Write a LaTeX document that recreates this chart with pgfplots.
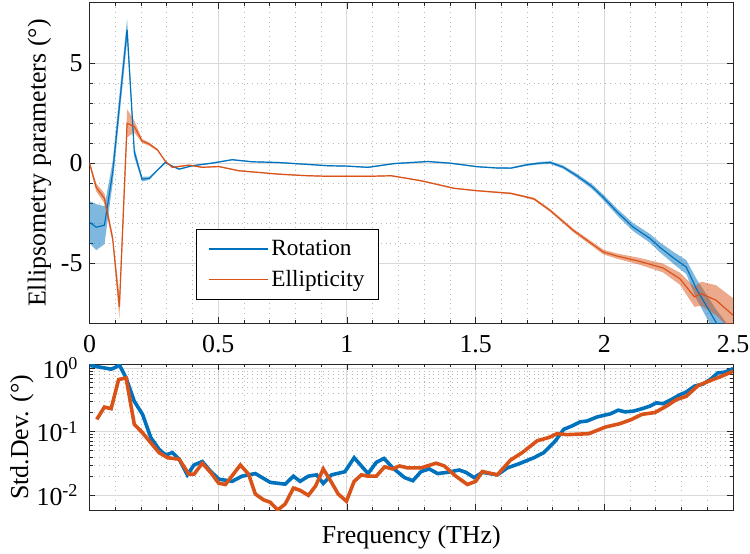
\documentclass[border=0pt]{standalone}
\usepackage{pgfplots}
\pgfplotsset{compat=1.18}
\usepackage{pgfplotstable}
\usepgfplotslibrary{fillbetween}
\usepackage{fontspec}
\setmainfont{Liberation Serif}
\definecolor{mblue}{rgb}{0,0.447,0.741}
\definecolor{morange}{rgb}{0.85,0.325,0.098}
\definecolor{axc}{rgb}{0.15,0.15,0.15}

% Rotation: f, mean, band half-width
\pgfplotstableread{
f v d
0.000 -2.95 1.05
0.026 -3.20 1.15
0.058 -3.10 0.95
0.090 -0.46 0.55
0.146 6.67 0.55
0.174 0.55 0.25
0.204 -0.80 0.12
0.232 -0.76 0.08
0.264 -0.35 0.05
0.294 0.03 0.04
0.322 -0.15 0.03
0.348 -0.30 0.03
0.400 -0.13 0.03
0.476 0.00 0.03
0.554 0.17 0.03
0.630 0.07 0.03
0.734 0.03 0.03
0.830 -0.05 0.03
0.927 -0.13 0.03
1.000 -0.15 0.03
1.082 -0.21 0.03
1.185 -0.02 0.03
1.314 0.08 0.03
1.400 0.00 0.03
1.507 -0.18 0.03
1.580 -0.24 0.03
1.636 -0.25 0.04
1.700 -0.08 0.05
1.750 0.00 0.06
1.790 0.03 0.07
1.840 -0.20 0.08
1.893 -0.63 0.10
1.950 -1.15 0.12
1.996 -1.71 0.14
2.050 -2.45 0.17
2.112 -3.20 0.20
2.176 -3.75 0.22
2.215 -4.20 0.25
2.270 -4.75 0.30
2.318 -5.19 0.35
2.357 -6.27 0.50
2.434 -7.96 0.65
2.500 -9.20 0.80
}\tabrot

% Ellipticity: f, mean, band half-width
\pgfplotstableread{
f v d
0.000 0.00 0.10
0.026 -1.21 0.20
0.058 -1.76 0.25
0.090 -3.78 0.20
0.116 -7.18 0.60
0.146 1.99 0.70
0.174 1.83 0.30
0.204 1.11 0.10
0.232 0.95 0.08
0.264 0.66 0.05
0.294 0.10 0.04
0.322 -0.21 0.04
0.387 -0.10 0.03
0.438 -0.21 0.03
0.502 -0.17 0.03
0.580 -0.38 0.03
0.734 -0.55 0.03
0.830 -0.62 0.03
0.927 -0.66 0.03
1.082 -0.66 0.03
1.172 -0.63 0.03
1.288 -0.88 0.03
1.417 -1.26 0.03
1.507 -1.38 0.03
1.636 -1.51 0.04
1.700 -1.70 0.05
1.727 -1.79 0.06
1.790 -2.37 0.07
1.880 -3.37 0.09
1.996 -4.44 0.12
2.048 -4.64 0.13
2.138 -4.91 0.17
2.228 -5.24 0.22
2.293 -5.77 0.30
2.350 -6.68 0.50
2.376 -6.52 0.60
2.434 -6.85 0.75
2.500 -7.60 0.85
}\tabell

\pgfplotstableread{
f s
0.000 1.10
0.030 1.05
0.060 1.00
0.084 0.96
0.100 1.02
0.116 1.12
0.142 0.70
0.174 0.30
0.206 0.187
0.238 0.081
0.270 0.053
0.296 0.043
0.322 0.047
0.348 0.037
0.380 0.021
0.406 0.030
0.438 0.034
0.470 0.024
0.502 0.018
0.554 0.0166
0.592 0.020
0.644 0.022
0.702 0.016
0.760 0.015
0.792 0.020
0.818 0.0166
0.850 0.020
0.882 0.021
0.908 0.0154
0.940 0.021
0.992 0.0235
1.028 0.039
1.082 0.022
1.114 0.033
1.144 0.038
1.178 0.027
1.224 0.019
1.256 0.017
1.288 0.0237
1.320 0.026
1.352 0.022
1.391 0.023
1.436 0.025
1.462 0.023
1.494 0.019
1.526 0.023
1.584 0.021
1.623 0.027
1.674 0.032
1.726 0.039
1.765 0.047
1.810 0.072
1.842 0.109
1.874 0.123
1.906 0.143
1.932 0.147
1.971 0.170
2.003 0.183
2.022 0.190
2.054 0.218
2.080 0.205
2.112 0.210
2.145 0.229
2.177 0.252
2.202 0.284
2.228 0.275
2.260 0.320
2.293 0.380
2.318 0.420
2.350 0.520
2.383 0.560
2.415 0.680
2.441 0.840
2.467 0.860
2.500 0.980
}\tabsb

\pgfplotstableread{
f s
0.028 0.156
0.058 0.244
0.084 0.230
0.113 0.660
0.142 0.700
0.174 0.130
0.206 0.096
0.238 0.067
0.270 0.047
0.303 0.039
0.348 0.037
0.386 0.0215
0.406 0.0215
0.438 0.032
0.470 0.023
0.502 0.0155
0.528 0.0148
0.586 0.030
0.618 0.0215
0.644 0.0105
0.676 0.0085
0.702 0.0078
0.731 0.0059
0.760 0.0073
0.792 0.013
0.818 0.012
0.850 0.010
0.878 0.014
0.908 0.026
0.940 0.016
0.966 0.0105
0.998 0.0081
1.028 0.0166
1.056 0.021
1.082 0.020
1.114 0.020
1.146 0.028
1.178 0.026
1.204 0.029
1.236 0.027
1.288 0.027
1.346 0.032
1.378 0.029
1.423 0.020
1.468 0.0148
1.500 0.0166
1.526 0.0237
1.584 0.021
1.636 0.036
1.681 0.047
1.739 0.072
1.784 0.081
1.816 0.093
1.855 0.090
1.939 0.093
2.003 0.118
2.061 0.134
2.106 0.156
2.145 0.187
2.196 0.200
2.241 0.252
2.280 0.320
2.318 0.360
2.364 0.530
2.409 0.630
2.454 0.740
2.500 0.890
}\tabso

\pgfplotsset{
  mystyle/.style={
    scale only axis, width=323.5pt,
    xmin=0, xmax=2.5,
    tick align=inside,
    major tick length=3pt, minor tick length=1.6pt,
    axis line style={axc, line width=0.5pt},
    every tick/.style={axc, line width=0.4pt},
    grid=both,
    major grid style={black!15, line width=0.5pt},
    minor grid style={black!28, dotted, line width=0.4pt},
    tick label style={font=\fontsize{13}{15}\selectfont, text=black},
    label style={font=\fontsize{13}{15}\selectfont},
    /pgf/number format/assume math mode=true,
    xtick={0,0.5,1,1.5,2,2.5}, minor x tick num=4,
  }
}

\begin{document}
\begin{tikzpicture}
\begin{axis}[mystyle, name=top, at={(0pt,0pt)}, anchor=south west,
  height=161pt, ymin=-8, ymax=8, ytick={-5,0,5}, minor y tick num=4,
  ylabel={Ellipsometry parameters (°)},
  ylabel style={at={(axis description cs:-0.078,0.5)}, anchor=center},
  xticklabel style={yshift=-2.5pt},
  legend style={at={(0.165,0.293)}, anchor=north west, draw=black,
    line width=0.5pt, fill=white, font=\fontsize{11.7}{13.5}\selectfont,
    inner xsep=6pt, inner ysep=3pt, row sep=2pt, nodes={inner xsep=1.2pt}},
  legend cell align=left,
  legend image code/.code={\draw[#1, line width=0.6pt] (0pt,0pt) -- (30pt,0pt);},
]
\addplot[name path=rh, draw=none, forget plot] table[x=f, y expr=\thisrow{v}+\thisrow{d}] {\tabrot};
\addplot[name path=rl, draw=none, forget plot] table[x=f, y expr=\thisrow{v}-\thisrow{d}] {\tabrot};
\addplot[mblue, fill opacity=0.5, forget plot] fill between[of=rh and rl];
\addplot[mblue, line width=0.6pt] table[x=f, y=v] {\tabrot};
\addlegendentry{Rotation}
\addplot[name path=eh, draw=none, forget plot] table[x=f, y expr=\thisrow{v}+\thisrow{d}] {\tabell};
\addplot[name path=el, draw=none, forget plot] table[x=f, y expr=\thisrow{v}-\thisrow{d}] {\tabell};
\addplot[morange, fill opacity=0.5, forget plot] fill between[of=eh and el];
\addplot[morange, line width=0.6pt] table[x=f, y=v] {\tabell};
\addlegendentry{Ellipticity}
\end{axis}
\begin{axis}[mystyle, at={(0pt,-20.5pt)}, anchor=north west,
  height=73.5pt, ymode=log, ymin=0.00583, ymax=1.155,
  ytick={0.01,0.1,1},
  yticklabels={10\textsuperscript{-2},10\textsuperscript{-1},10\textsuperscript{0}},
  yticklabel style={xshift=-2pt},
  xticklabels={},
  ylabel={Std.Dev. (°)},
  ylabel style={at={(axis description cs:-0.105,0.5)}, anchor=center},
  xlabel={Frequency (THz)},
  xlabel style={at={(axis description cs:0.5,0)}, anchor=north, yshift=-4pt},
]
\addplot[mblue, line width=1.8pt] table[x=f, y=s] {\tabsb};
\addplot[morange, line width=1.8pt] table[x=f, y=s] {\tabso};
\end{axis}
\pgfresetboundingbox
\path[use as bounding box] (-45pt,-115.5pt) rectangle (332pt,162.5pt);
\end{tikzpicture}
\end{document}
